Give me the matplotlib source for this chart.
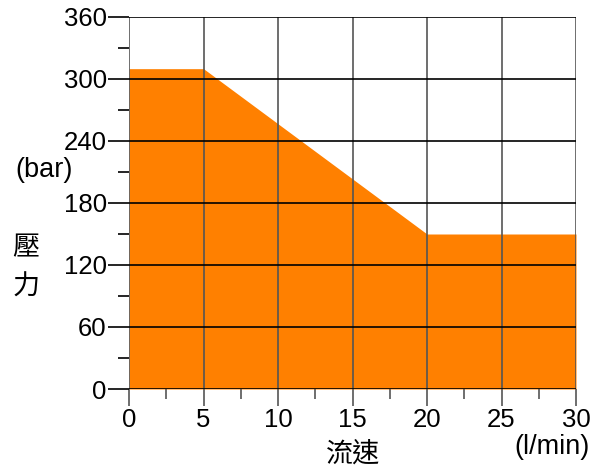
import matplotlib.pyplot as plt
import numpy as np

plt.rcParams['font.family'] = ['Liberation Sans', 'Noto Sans CJK TC', 'DejaVu Sans']

# 流量 (l/min) / 壓力 (bar)
flow = [0, 5, 20, 30]
pressure = [310, 310, 150, 150]

x_ticks = [0, 5, 10, 15, 20, 25, 30]
y_ticks = [0, 60, 120, 180, 240, 300, 360]

fig = plt.figure(figsize=(6.02, 4.73), dpi=100)
ax = fig.add_axes([129 / 602, 1 - 389 / 473, 447 / 602, 372 / 473])

ax.fill_between(flow, pressure, 0, color='#ff8000', linewidth=0, zorder=1)

ax.set_xlim(0, 30)
ax.set_ylim(0, 360)
ax.set_xticks(x_ticks)
ax.set_yticks(y_ticks)
ax.set_xticks(np.arange(2.5, 30, 5), minor=True)
ax.set_yticks(np.arange(30, 360, 60), minor=True)

for x in x_ticks:
    ax.axvline(x, color='#555555', lw=1.2, zorder=2)
for y in y_ticks:
    ax.axhline(y, color='black', lw=1.2, zorder=2)

for s in ax.spines.values():
    s.set_visible(False)

ax.tick_params(axis='both', which='major', labelsize=18.5, width=1.2, color='black')
ax.tick_params(axis='y', which='major', length=15, pad=1)
ax.tick_params(axis='x', which='major', length=12, pad=2, color='#555555')
ax.tick_params(axis='y', which='minor', length=8, width=1.2)
ax.tick_params(axis='x', which='minor', length=7, width=1.2, color='#555555')

fig.text(15 / 602, 1 - 170 / 473, '(bar)', fontsize=19.5, va='center', ha='left')
fig.text(26 / 602, 1 - 248 / 473, '壓', fontsize=19.5, va='center', ha='center')
fig.text(26 / 602, 1 - 288 / 473, '力', fontsize=19.5, va='center', ha='center')
fig.text(353 / 602, 1 - 455 / 473, '流速', fontsize=19.5, va='center', ha='center')
fig.text(552 / 602, 1 - 447 / 473, '(l/min)', fontsize=19.5, va='center', ha='center')

fig.savefig('out.png', dpi=100)
